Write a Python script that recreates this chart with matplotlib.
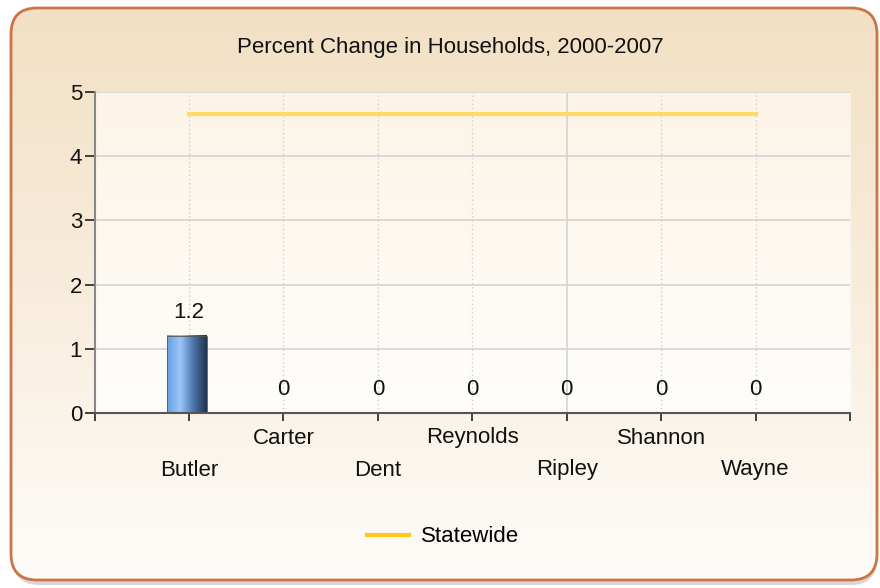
import matplotlib
matplotlib.use("Agg")
import matplotlib.pyplot as plt
import numpy as np
from matplotlib.patches import FancyBboxPatch
from matplotlib.colors import LinearSegmentedColormap

counties = ["Butler", "Carter", "Dent", "Reynolds", "Ripley", "Shannon", "Wayne"]
pct_change = [1.2, 0, 0, 0, 0, 0, 0]
statewide = [4.66] * len(counties)
y_ticks = [0, 1, 2, 3, 4, 5]

FONT = "Liberation Sans"
FS = 16
W, H = 880, 588

fig = plt.figure(figsize=(W / 100, H / 100), dpi=100)
fig.patch.set_facecolor("white")

# outer rounded frame with vertical gradient
bg = fig.add_axes([0, 0, 1, 1], zorder=0)
bg.set_xlim(0, W)
bg.set_ylim(H, 0)
bg.axis("off")

# soft shadow under the frame
shadow = FancyBboxPatch((13, 12), 864, 573, boxstyle="round,pad=0,rounding_size=26",
                        facecolor="#a8a8a8", edgecolor="none", alpha=0.45)
bg.add_patch(shadow)

frame = FancyBboxPatch((11, 8), 866, 572, boxstyle="round,pad=0,rounding_size=26",
                       facecolor="none", edgecolor="#cc7444", linewidth=2.0, zorder=3)
bg.add_patch(frame)
grad_cmap = LinearSegmentedColormap.from_list("frame", ["#f2e0c4", "#f8eddd", "#fefcf9"])
grad = np.linspace(0, 1, 256).reshape(-1, 1)
img = bg.imshow(grad, cmap=grad_cmap, extent=(11, 877, 580, 8), aspect="auto", zorder=1)
img.set_clip_path(frame)

fig.text(450 / W, 1 - 47 / H, "Percent Change in Households, 2000-2007",
         ha="center", va="center", fontsize=FS, family=FONT, color="#111111")

# plot area
left, right, top, bottom = 94.5, 850, 92, 413
ax = fig.add_axes([left / W, 1 - bottom / H, (right - left) / W, (bottom - top) / H], zorder=2)
ax.set_xlim(-1, 7)
ax.set_ylim(0, 5)

plot_cmap = LinearSegmentedColormap.from_list("plot", ["#fcf4e6", "#fffefc"])
ax.imshow(grad, cmap=plot_cmap, extent=(-1, 7, 0, 5), aspect="auto", zorder=0)

x = np.arange(len(counties))

# grid
for yv in y_ticks[1:]:
    ax.axhline(yv, color="#d4d4d4", lw=1.2, zorder=1)
for xv in list(x) + [7]:
    if xv < len(counties) and counties[xv] == "Ripley":
        ax.axvline(xv, color="#d4d4d4", lw=1.2, zorder=1)
    else:
        ax.axvline(xv, color="#cfcfcf", lw=1.0, ls=(0, (1, 2)), zorder=1)

# gradient bars
bar_cmap = LinearSegmentedColormap.from_list("bar", ["#6a9fe6", "#9cc6f6", "#4a74aa", "#22344e"])
bar_w = 0.42
for xi, v in zip(x, pct_change):
    if v > 0:
        ax.imshow(np.linspace(0, 1, 64).reshape(1, -1), cmap=bar_cmap,
                  extent=(xi - bar_w / 2 - 0.02, xi + bar_w / 2 - 0.02, 0, v),
                  aspect="auto", zorder=2)
        ax.add_patch(plt.Rectangle((xi - bar_w / 2 - 0.02, 0), bar_w, v, fill=False,
                                   edgecolor="#555555", lw=0.6, zorder=3))
    ax.text(xi, v + 0.36, f"{v:g}", ha="center", va="center", fontsize=FS,
            family=FONT, color="#111111", zorder=4)

line, = ax.plot(x, statewide, color="#ffd95a", lw=3, alpha=0.9, zorder=3, label="Statewide")

ax.set_xlim(-1, 7)
ax.set_ylim(0, 5)

# axes styling
for s in ["top", "right"]:
    ax.spines[s].set_visible(False)
ax.spines["left"].set_color("#888888")
ax.spines["left"].set_linewidth(1.5)
ax.spines["bottom"].set_color("#555555")
ax.spines["bottom"].set_linewidth(1.5)

ax.set_yticks(y_ticks)
ax.set_yticklabels([str(t) for t in y_ticks], fontsize=FS, family=FONT, color="#111111")
ax.tick_params(axis="y", length=7, width=1.2, color="#222222", pad=2)

ax.set_xticks(list(range(-1, 8)))
ax.set_xticklabels([""] * 9)
ax.tick_params(axis="x", length=6, width=1.2, color="#222222", direction="out")
for i, name in enumerate(counties):
    offset = 25 if i % 2 == 1 else 57
    ax.annotate(name, (i, 0), xytext=(0, -offset), textcoords="offset pixels",
                ha="center", va="center", fontsize=FS, family=FONT, color="#111111",
                annotation_clip=False)

leg = fig.legend(handles=[line], loc="center", bbox_to_anchor=(443 / W, 1 - 537 / H),
                 frameon=False, prop={"family": FONT, "size": FS},
                 handlelength=1.9, handletextpad=0.55)
leg.get_lines()[0].set_alpha(1.0)
leg.get_lines()[0].set_color("#ffc81e")

fig.savefig("out.png", dpi=100)
